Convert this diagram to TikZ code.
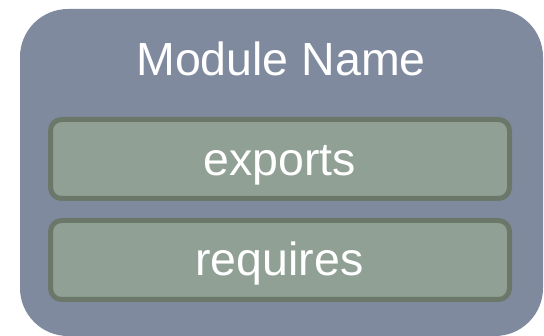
\documentclass[tikz,border=0pt]{standalone}
\usepackage{fontspec}
\setmainfont{Liberation Sans}
\definecolor{modfill}{HTML}{7F8A9F}
\definecolor{partfill}{HTML}{90A094}
\definecolor{partedge}{HTML}{6B7869}
\tikzset{
  modbox/.style={fill=modfill, rounded corners=48pt},
  partbox/.style={fill=partfill, draw=partedge, line width=5pt, rounded corners=11pt},
  label/.style={text=white, font=\fontsize{46.5}{56}\selectfont, anchor=base, inner sep=0pt}
}
\begin{document}
\begin{tikzpicture}[x=1pt, y=-1pt]
  \useasboundingbox (0,0) rectangle (544,336);
  % module container
  \path[modbox] (20,9) rectangle (543,336);
  \node[label] (title) at (281,75.5) {Module Name};
  % exports section
  \path[partbox] (50.5,119.5) rectangle (509.5,198.5);
  \node[label] (exports) at (279.5,175.5) {exports};
  % requires section
  \path[partbox] (50.5,220.5) rectangle (509.5,299.5);
  \node[label] (requires) at (279.5,275.5) {requires};
\end{tikzpicture}
\end{document}
